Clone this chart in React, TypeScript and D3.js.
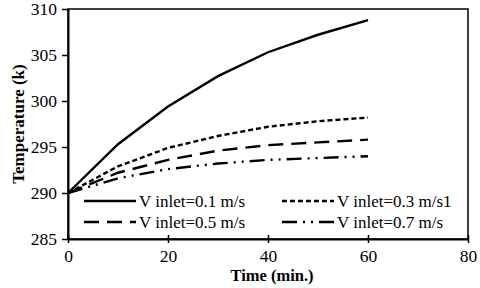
import { useEffect, useRef } from "react";
import * as d3 from "d3";

const times = [0, 10, 20, 30, 40, 50, 60];
const v01 = [290, 295.3, 299.4, 302.7, 305.3, 307.2, 308.8];
const v03 = [290, 292.9, 294.9, 296.2, 297.2, 297.8, 298.2];
const v05 = [290, 292.2, 293.6, 294.6, 295.2, 295.5, 295.8];
const v07 = [290, 291.6, 292.6, 293.2, 293.6, 293.8, 294.0];
const xTicks = [0, 20, 40, 60, 80];
const yTicks = [285, 290, 295, 300, 305, 310];

const series = [
  { name: "V inlet=0.1 m/s", values: v01, dash: null },
  { name: "V inlet=0.3 m/s1", values: v03, dash: "5,3" },
  { name: "V inlet=0.5 m/s", values: v05, dash: "15,8" },
  { name: "V inlet=0.7 m/s", values: v07, dash: "15,6,2,6,2,6" },
];

export default function App() {
  const svgRef = useRef<SVGSVGElement | null>(null);

  useEffect(() => {
    const width = 480;
    const height = 288;
    const margin = { top: 9, right: 12, bottom: 50, left: 68 };
    const font = "'Liberation Serif', 'Times New Roman', serif";

    const svg = d3.select(svgRef.current);
    svg.selectAll("*").remove();

    const x = d3.scaleLinear().domain([0, 80]).range([margin.left, width - margin.right]);
    const y = d3.scaleLinear().domain([285, 310]).range([height - margin.bottom + 1, margin.top]);

    // frame
    svg
      .append("rect")
      .attr("x", x(0))
      .attr("y", y(310))
      .attr("width", x(80) - x(0))
      .attr("height", y(285) - y(310))
      .attr("fill", "none")
      .attr("stroke", "#000")
      .attr("stroke-width", 1.5);

    const yAxis = svg
      .append("g")
      .attr("transform", `translate(${x(0)},0)`)
      .call(d3.axisLeft(y).tickValues(yTicks).tickSize(6).tickSizeOuter(0).tickPadding(5));
    yAxis.select(".domain").attr("stroke-width", 2);
    yAxis.selectAll("line").attr("stroke-width", 1.5);
    yAxis.selectAll("text").attr("font-family", font).attr("font-size", 17.5).attr("fill", "#000");

    const xAxis = svg
      .append("g")
      .attr("transform", `translate(0,${y(285)})`)
      .call(d3.axisBottom(x).tickValues(xTicks).tickSize(4).tickSizeOuter(0).tickPadding(7));
    xAxis.select(".domain").attr("stroke-width", 2);
    xAxis.selectAll("line").attr("y1", -4).attr("stroke-width", 1.5);
    xAxis.selectAll("text").attr("font-family", font).attr("font-size", 17.5).attr("fill", "#000");

    const line = d3
      .line<number>()
      .x((_, i) => x(times[i]))
      .y((d) => y(d));

    series.forEach((s) => {
      svg
        .append("path")
        .datum(s.values)
        .attr("d", line)
        .attr("fill", "none")
        .attr("stroke", "#000")
        .attr("stroke-width", 2.4)
        .attr("stroke-dasharray", s.dash);
    });

    // legend, two columns
    const legendPos = [
      [84, 201],
      [282, 201],
      [84, 222],
      [282, 222],
    ];
    series.forEach((s, i) => {
      const [lx, ly] = legendPos[i];
      svg
        .append("line")
        .attr("x1", lx)
        .attr("x2", lx + 52)
        .attr("y1", ly)
        .attr("y2", ly)
        .attr("stroke", "#000")
        .attr("stroke-width", 2.4)
        .attr("stroke-dasharray", s.dash);
      svg
        .append("text")
        .attr("x", lx + 55)
        .attr("y", ly + 5.5)
        .attr("font-family", font)
        .attr("font-size", 17)
        .text(s.name);
    });

    svg
      .append("text")
      .attr("x", 272)
      .attr("y", 281)
      .attr("text-anchor", "middle")
      .attr("font-family", font)
      .attr("font-size", 16.5)
      .attr("font-weight", "bold")
      .text("Time (min.)");

    svg
      .append("text")
      .attr("transform", `translate(18,${(y(285) + y(310)) / 2}) rotate(-90)`)
      .attr("text-anchor", "middle")
      .attr("dy", "0.35em")
      .attr("font-family", font)
      .attr("font-size", 17)
      .attr("font-weight", "bold")
      .text("Temperature (k)");
  }, []);

  return (
    <svg
      ref={svgRef}
      width={480}
      height={288}
      style={{ position: "absolute", left: 0, top: 0, background: "#fff" }}
    />
  );
}
